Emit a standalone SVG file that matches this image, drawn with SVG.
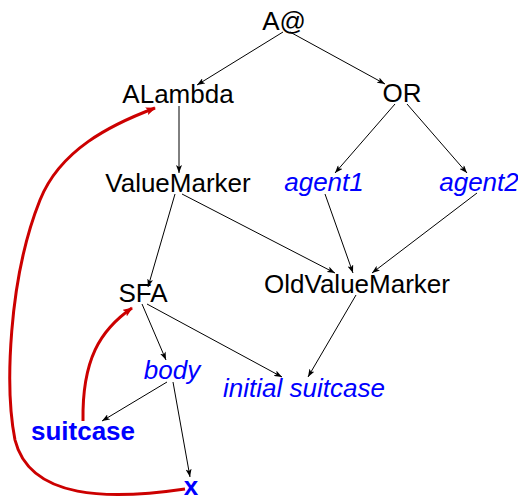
<svg xmlns="http://www.w3.org/2000/svg" width="518" height="498" viewBox="0 0 518 498">
  <style>
    .lbl { font-family: "Liberation Sans", Arial, sans-serif; font-size: 26px; text-anchor: middle; fill: #000; }
    .var { fill: #0000ff; font-style: italic; }
    .bnd { fill: #0000ff; font-weight: bold; }
    .edge { stroke: #000; stroke-width: 1; fill: none; marker-end: url(#arr); }
    .link { stroke: #cc0000; stroke-width: 3; fill: none; marker-end: url(#rarr); }
  </style>
  <defs>
    <marker id="arr" markerUnits="userSpaceOnUse" viewBox="0 0 8 6" refX="8" refY="3" markerWidth="8" markerHeight="6" orient="auto">
      <path d="M0,0 L8,3 L0,6 L2,3 Z" fill="#000"/>
    </marker>
    <marker id="rarr" markerUnits="userSpaceOnUse" viewBox="0 0 10 8" refX="9" refY="4" markerWidth="10" markerHeight="8" orient="auto">
      <path d="M0,0 L10,4 L0,8 L2,4 Z" fill="#cc0000"/>
    </marker>
  </defs>

  <g id="connectors">
    <line class="edge" x1="283" y1="32" x2="197" y2="85"/>
    <line class="edge" x1="290" y1="32" x2="385" y2="84"/>
    <line class="edge" x1="179" y1="106" x2="179" y2="173"/>
    <line class="edge" x1="395" y1="104" x2="335" y2="173"/>
    <line class="edge" x1="407" y1="104" x2="467" y2="173"/>
    <line class="edge" x1="175" y1="194" x2="148" y2="287"/>
    <line class="edge" x1="182" y1="194" x2="335" y2="273"/>
    <line class="edge" x1="325" y1="194" x2="353" y2="273"/>
    <line class="edge" x1="477" y1="193" x2="372" y2="273"/>
    <line class="edge" x1="142" y1="304" x2="166" y2="360"/>
    <line class="edge" x1="147" y1="304" x2="282" y2="377"/>
    <line class="edge" x1="356" y1="295" x2="308" y2="377"/>
    <line class="edge" x1="167" y1="382" x2="102" y2="421"/>
    <line class="edge" x1="173" y1="382" x2="190" y2="477"/>
    <path class="link" d="M83,421 C82,360 100,330 132,308"/>
    <path class="link" d="M185,489 C110,500 30,500 15,440 C5,390 8,280 40,200 C60,150 110,125 155,108"/>
  </g>

  <g id="n-apply"><text class="lbl" x="284" y="30">A@</text></g>
  <g id="n-alambda"><text class="lbl" x="178" y="103">ALambda</text></g>
  <g id="n-or"><text class="lbl" x="402" y="102">OR</text></g>
  <g id="n-valuemarker"><text class="lbl" x="178" y="192">ValueMarker</text></g>
  <g id="n-agent1"><text class="lbl var" x="324" y="191">agent1</text></g>
  <g id="n-agent2"><text class="lbl var" x="479" y="191">agent2</text></g>
  <g id="n-sfa"><text class="lbl" x="143" y="302">SFA</text></g>
  <g id="n-oldvaluemarker"><text class="lbl" x="357" y="293">OldValueMarker</text></g>
  <g id="n-body"><text class="lbl var" x="172" y="379">body</text></g>
  <g id="n-initial"><text class="lbl var" x="304" y="397">initial suitcase</text></g>
  <g id="n-suitcase"><text class="lbl bnd" x="83" y="440">suitcase</text></g>
  <g id="n-x"><text class="lbl bnd" x="191" y="495">x</text></g>
</svg>
